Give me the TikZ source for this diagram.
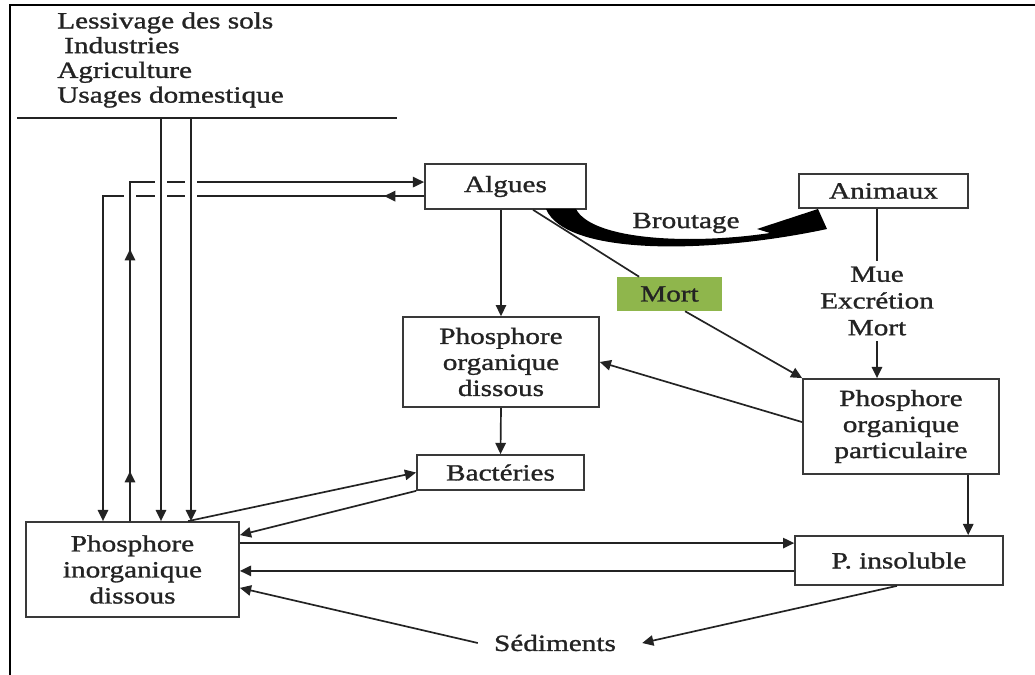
\documentclass[tikz,border=0pt]{standalone}
\usepackage{fontspec}
\setmainfont{Liberation Serif}[FakeStretch=1.26, FakeBold=1.2]
\usetikzlibrary{arrows.meta}
\definecolor{ink}{RGB}{35,35,35}
\definecolor{mortgreen}{RGB}{143,182,76}

\begin{document}
\begin{tikzpicture}[x=0.025cm, y=-0.025cm,
    every node/.style={font=\fontsize{16.5}{18.5}\selectfont, text=ink, align=center},
    box/.style={draw=ink!90, line width=1.1pt, inner sep=0pt},
    flow/.style={draw=ink, line width=1.2pt, -{Triangle[length=2.8mm,width=2.6mm]}},
    ln/.style={draw=ink, line width=1.2pt},
    bridge/.style={draw=white, line width=8pt}]
    \useasboundingbox (0,0) rectangle (1035,675);
    % Frame
    \draw[line width=2pt] (10,675) -- (10,5) -- (1035,5);

    % Sources
    \node[anchor=north west, align=left, inner sep=0pt,
          font=\fontsize{16.5}{17.6}\selectfont] (sources) at (57,12)
        {Lessivage des sols\\\hspace{0.3em}Industries\\Agriculture\\Usages domestique};
    \coordinate (sepL) at (17,118);
    \coordinate (sepR) at (397,118);
    \draw[ln] (sepL) -- (sepR);

    % Boxes
    \node[box, minimum width=4.03cm, minimum height=1.13cm] (algues) at (505.5,186.5) {Algues};
    \node[box, minimum width=4.23cm, minimum height=0.85cm] (animaux) at (883.5,191) {Animaux};
    \node[fill=mortgreen, inner sep=0pt, minimum width=2.63cm, minimum height=0.85cm] (mort) at (669.5,294) {Mort};
    \node[box, minimum width=4.9cm, minimum height=2.25cm] (pod) at (501,362) {Phosphore\\organique\\dissous};
    \node[box, minimum width=4.18cm, minimum height=0.88cm] (bact) at (500.5,472.5) {Bactéries};
    \node[box, minimum width=4.9cm, minimum height=2.38cm] (pop) at (901,426.5) {Phosphore\\organique\\particulaire};
    \node[box, minimum width=5.2cm, minimum height=1.23cm] (pins) at (899,560.5) {P. insoluble};
    \node[box, minimum width=5.33cm, minimum height=2.38cm] (pid) at (132.5,569.5) {Phosphore\\inorganique\\dissous};
    \node[inner sep=0.4cm] (sed) at (555,643) {Sédiments};
    \node[inner sep=4pt, font=\fontsize{16.5}{19}\selectfont] (mue) at (877,301) {Mue\\Excrétion\\Mort};
    \node (brout) at (686,223) {Broutage};

    % Left loop between algae and dissolved inorganic P
    \coordinate (loopin) at ([yshift=0.11cm]algues.west);
    \coordinate (loopout) at ([yshift=-0.24cm]algues.west);
    \coordinate (cornerA) at (103,196);
    \coordinate (cornerB) at (130,182);
    \draw[flow] (loopout) -- ++(-40,0);
    \draw[flow] (loopout) -- (cornerA) -- (cornerA |- pid.north);
    \draw[bridge] (130,189) -- (130,203);
    \draw[flow] (cornerB |- pid.north) -- ++(0,-50);
    \draw[flow] (cornerB |- pid.north) -- ++(0,-272);
    \draw[flow] (cornerB |- pid.north) -- (cornerB) -- (loopin);

    % Inputs from the sources
    \coordinate (feedA) at (161,118);
    \coordinate (feedB) at (191,118);
    \draw[bridge] (161,175) -- (161,203);
    \draw[bridge] (191,175) -- (191,203);
    \draw[flow] (feedA) -- (feedA |- pid.north);
    \draw[flow] (feedB) -- (feedB |- pid.north);

    % Grazing
    \fill[black] (546,209) .. controls (566,256) and (710,254) .. (827,229)
        -- (818,209) -- (757,229) -- (770,233)
        .. controls (690,245) and (592,240) .. (576,209) -- cycle;

    % Death and excretion
    \draw[ln] ([xshift=0.69cm]algues.south) -- ([xshift=-0.76cm]mort.north);
    \draw[flow] ([xshift=0.39cm]mort.south) -- (pop.north west);
    \draw[ln] (mue.north |- animaux.south) -- (mue.north);
    \draw[flow] (mue.south) -- (mue.south |- pop.north);

    % Organic and bacterial pathways
    \draw[flow] (pod.north |- algues.south) -- (pod.north);
    \draw[flow] ([yshift=0.11cm]pop.west) -- (pod.east);
    \draw[flow] (pod.south) -- (bact.north);
    \draw[flow] ([xshift=1.39cm]pid.north) -- (bact.west);
    \draw[flow] (bact.south west) -- ([yshift=0.86cm]pid.east);

    % Insoluble P and sediments
    \coordinate (popdown) at ([xshift=1.68cm]pop.south);
    \draw[flow] (popdown) -- (popdown |- pins.north);
    \coordinate (pidout) at ([yshift=0.66cm]pid.east);
    \coordinate (pinsout) at ([yshift=-0.26cm]pins.west);
    \draw[flow] (pidout) -- (pidout -| pins.west);
    \draw[flow] (pinsout) -- (pinsout -| pid.east);
    \draw[flow] ([xshift=-0.05cm]pins.south) -- ([xshift=0.25cm]sed.east);
    \draw[flow] (sed.west) -- ([yshift=-0.46cm]pid.east);
\end{tikzpicture}
\end{document}
